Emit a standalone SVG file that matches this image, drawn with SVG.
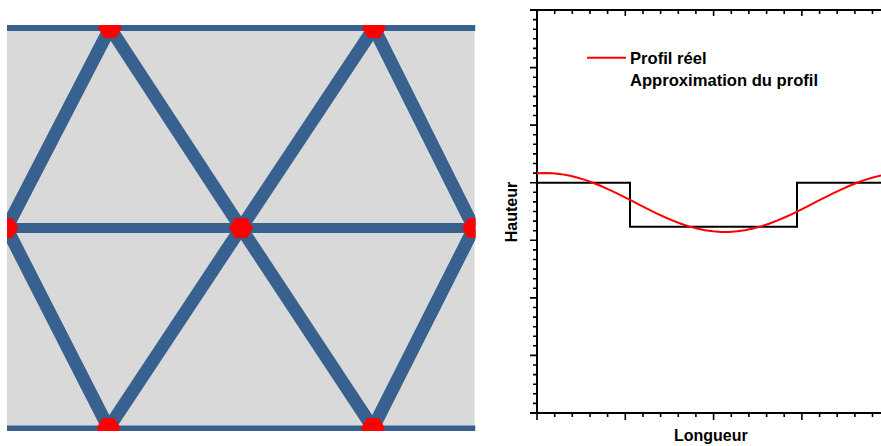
<svg xmlns="http://www.w3.org/2000/svg" width="881" height="446" viewBox="0 0 881 446">
<style>
.beam{stroke:#38618f;stroke-linecap:butt;fill:none}
.diag{stroke-width:13}
.node{fill:#ff0000}
.ax{stroke:#000;stroke-width:2;fill:none}
.tk{stroke:#000;stroke-width:1.6;fill:none}
.lbl{font-family:"Liberation Sans",Arial,sans-serif;font-weight:bold;fill:#000}
</style>
<defs>
<clipPath id="panel"><rect x="7" y="25" width="468.5" height="406"/></clipPath>
<polygon id="hex" points="-12,0 -6,-10 6,-10 12,0 6,10 -6,10"/>
</defs>
<rect width="881" height="446" fill="#ffffff"/>
<g id="lattice" clip-path="url(#panel)">
<rect x="7" y="27" width="467.5" height="402" fill="#d9d9d9"/>
<g id="connectors">
<line class="beam" x1="7" y1="28" x2="475.5" y2="28" stroke-width="6"/>
<line class="beam" x1="7" y1="228" x2="475.5" y2="228" stroke-width="10"/>
<line class="beam" x1="7" y1="428.5" x2="475.5" y2="428.5" stroke-width="6"/>
<line class="beam diag" x1="110" y1="28" x2="6.5" y2="228"/>
<line class="beam diag" x1="110" y1="28" x2="241" y2="228"/>
<line class="beam diag" x1="374" y1="28" x2="241" y2="228"/>
<line class="beam diag" x1="374" y1="28" x2="474" y2="228"/>
<line class="beam diag" x1="108.5" y1="428" x2="6.5" y2="228"/>
<line class="beam diag" x1="108.5" y1="428" x2="241" y2="228"/>
<line class="beam diag" x1="373" y1="428" x2="241" y2="228"/>
<line class="beam diag" x1="373" y1="428" x2="474" y2="228"/>
</g>
<g id="n-top-left"><use href="#hex" class="node" x="110" y="28"/></g>
<g id="n-top-right"><use href="#hex" class="node" x="374" y="28"/></g>
<g id="n-mid-left"><use href="#hex" class="node" x="6.5" y="228"/></g>
<g id="n-mid-center"><use href="#hex" class="node" x="241" y="228"/></g>
<g id="n-mid-right"><use href="#hex" class="node" x="474" y="228"/></g>
<g id="n-bot-left"><use href="#hex" class="node" x="108.5" y="428"/></g>
<g id="n-bot-right"><use href="#hex" class="node" x="373" y="428"/></g>
</g>
<g id="chart">
<g id="axes">
<path class="ax" d="M530,10 H881 M537,10 V413 M530,413 H881"/>
<path class="tk" d="M537,413 V420 M625.3,413 V420 M713.6,413 V420 M801.9,413 V420
M554.7,413 V417 M572.3,413 V417 M590,413 V417 M607.6,413 V417
M643,413 V417 M660.6,413 V417 M678.3,413 V417 M695.9,413 V417
M731.3,413 V417 M748.9,413 V417 M766.6,413 V417 M784.2,413 V417
M819.6,413 V417 M837.2,413 V417 M854.9,413 V417 M872.5,413 V417"/>
<path class="tk" d="M625.3,10 V16 M713.6,10 V16 M801.9,10 V16
M554.7,10 V14 M572.3,10 V14 M590,10 V14 M607.6,10 V14
M643,10 V14 M660.6,10 V14 M678.3,10 V14 M695.9,10 V14
M731.3,10 V14 M748.9,10 V14 M766.6,10 V14 M784.2,10 V14
M819.6,10 V14 M837.2,10 V14 M854.9,10 V14 M872.5,10 V14"/>
<path class="tk" d="M530,67.6 H537 M530,125.1 H537 M530,182.7 H537 M530,240.3 H537 M530,297.9 H537 M530,355.4 H537
M533,19.6 H537 M533,29.2 H537 M533,38.8 H537 M533,48.4 H537 M533,58 H537
M533,77.2 H537 M533,86.8 H537 M533,96.4 H537 M533,105.9 H537 M533,115.5 H537
M533,134.7 H537 M533,144.3 H537 M533,153.9 H537 M533,163.5 H537 M533,173.1 H537
M533,192.3 H537 M533,201.9 H537 M533,211.5 H537 M533,221.1 H537 M533,230.7 H537
M533,249.9 H537 M533,259.5 H537 M533,269.1 H537 M533,278.7 H537 M533,288.3 H537
M533,307.5 H537 M533,317.1 H537 M533,326.7 H537 M533,336.3 H537 M533,345.8 H537
M533,365 H537 M533,374.6 H537 M533,384.2 H537 M533,393.8 H537 M533,403.4 H537"/>
</g>
<g id="series">
<path id="approx" d="M537,182.7 H630 V226.7 H797 V182.7 H881" fill="none" stroke="#000" stroke-width="2"/>
<polyline id="reel" fill="none" stroke="#ff0000" stroke-width="2" points="537,173.29 545,173 553,173.29 561,174.14 569,175.55 577,177.48 585,179.9 593,182.76 601,186 609,189.57 617,193.38 625,197.38 633,201.47 641,205.58 649,209.64 657,213.55 665,217.25 673,220.66 681,223.72 689,226.37 697,228.55 705,230.22 713,231.35 721,231.93 729,231.93 737,231.35 745,230.22 753,228.55 761,226.37 769,223.72 777,220.66 785,217.25 793,213.55 801,209.64 809,205.58 817,201.47 825,197.38 833,193.38 841,189.57 849,186 857,182.76 865,179.9 873,177.48 881,175.55"/>
</g>
<g id="legend">
<line x1="587" y1="57.7" x2="626" y2="57.7" stroke="#ff0000" stroke-width="2"/>
<text class="lbl" x="630" y="64" font-size="16.6">Profil réel</text>
<text class="lbl" x="630" y="86" font-size="16.6">Approximation du profil</text>
</g>
<text class="lbl" x="710.8" y="440.5" font-size="16" text-anchor="middle">Longueur</text>
<text class="lbl" font-size="16" text-anchor="middle" transform="translate(517,212) rotate(-90)">Hauteur</text>
</g>
</svg>
